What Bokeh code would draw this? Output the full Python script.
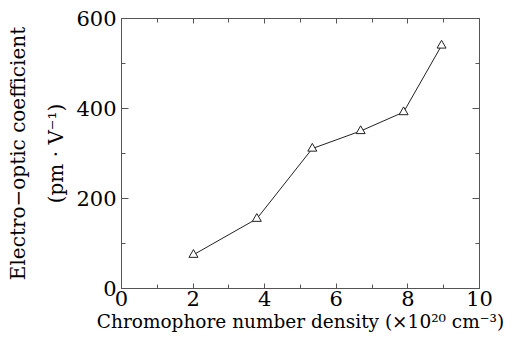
from bokeh.plotting import figure
from bokeh.models import Range1d, FixedTicker, LinearAxis
from bokeh.embed import file_html
from bokeh.resources import INLINE

# Data
density = [2.01, 3.78, 5.33, 6.68, 7.88, 8.94]
coefficient = [75, 155, 311, 350, 392, 540]

x_major = [0, 2, 4, 6, 8, 10]
x_minor = [1, 3, 5, 7, 9]
y_major = [0, 200, 400, 600]
y_minor = [100, 300, 500]

FONT = "DejaVu Serif"
AX = "#555555"

p = figure(width=512, height=326, output_backend="svg", toolbar_location=None,
           x_range=Range1d(0, 10), y_range=Range1d(0, 600),
           frame_width=358, frame_height=270,
           min_border_left=121, min_border_right=33, min_border_top=18, min_border_bottom=38)
p.xgrid.visible = False
p.ygrid.visible = False
p.outline_line_color = AX
p.outline_line_width = 1
p.background_fill_color = "white"
p.border_fill_color = "white"

def style(ax, major, minor, label=True, mt=6):
    ax.ticker = FixedTicker(ticks=major, minor_ticks=minor)
    ax.axis_line_color = AX
    ax.major_tick_line_color = AX
    ax.minor_tick_line_color = AX
    ax.major_tick_in = mt
    ax.major_tick_out = 0
    ax.minor_tick_in = 4
    ax.minor_tick_out = 0
    ax.major_label_text_font = FONT
    ax.major_label_text_font_size = "21px"
    ax.major_label_text_color = "black"
    ax.axis_label_text_font = FONT
    ax.axis_label_text_font_size = "20px"
    ax.axis_label_text_font_style = "normal"
    ax.axis_label_text_color = "black"
    if not label:
        ax.major_label_text_font_size = "0px"
        ax.major_label_text_color = None

style(p.xaxis[0], x_major, x_minor, mt=5)
style(p.yaxis[0], y_major, y_minor, mt=7)
p.xaxis[0].major_label_standoff = 2
p.yaxis[0].major_label_standoff = 5
p.xaxis[0].axis_label = "Chromophore number density (×10²⁰ cm⁻³)"
p.xaxis[0].axis_label_text_font_size = "18.5px"
p.xaxis[0].axis_label_standoff = 2
p.yaxis[0].axis_label = "Electro−optic coefficient\n(pm · V⁻¹)"
p.yaxis[0].axis_label_text_line_height = 1.6
p.yaxis[0].axis_label_standoff = 5

top = LinearAxis()
style(top, x_major, x_minor, label=False, mt=5)
p.add_layout(top, "above")
right = LinearAxis()
style(right, y_major, y_minor, label=False, mt=7)
p.add_layout(right, "right")

p.line(density, coefficient, line_color="#222222", line_width=1)
p.scatter(density, coefficient, marker="triangle", size=9, fill_color="white",
          line_color="#222222", line_width=1)

open("out.html", "w").write(file_html(p, INLINE))
